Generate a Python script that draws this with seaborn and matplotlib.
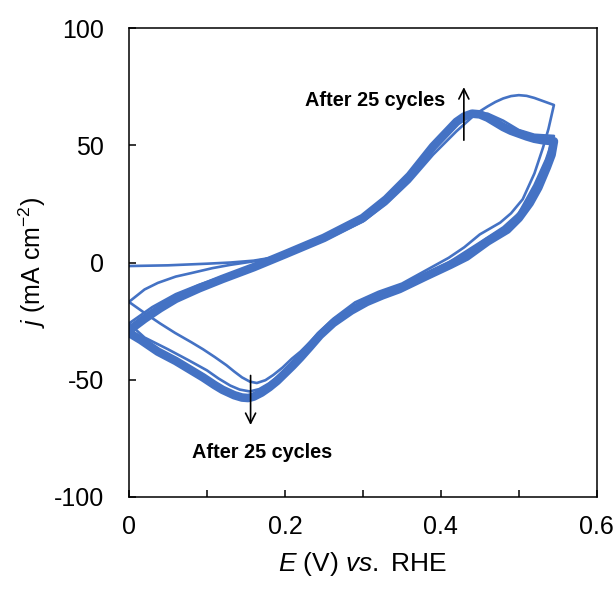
import matplotlib
matplotlib.use("Agg")
import matplotlib.pyplot as plt
import pandas as pd
import seaborn as sns
from matplotlib.ticker import MultipleLocator

# ---- cyclic voltammetry data: potential E (V vs. RHE), current density j (mA cm^-2) ----
# cycle 1, anodic sweep (starts at 0 V)
c1_an_E = [0.0, 0.05, 0.10, 0.13, 0.16, 0.20, 0.25, 0.30, 0.33, 0.36, 0.39, 0.42,
           0.44, 0.45, 0.46, 0.47, 0.48, 0.49, 0.50, 0.51, 0.52, 0.53, 0.545]
c1_an_j = [-1.5, -1.2, -0.5, 0.0, 0.8, 3.0, 9.5, 17.5, 25.0, 34.5, 46.0, 56.0,
           62.0, 64.5, 66.6, 68.5, 70.0, 71.0, 71.4, 71.1, 70.2, 69.0, 67.2]
# cycle 1, cathodic sweep
c1_ca_E = [0.545, 0.538, 0.531, 0.52, 0.505, 0.49, 0.476, 0.45, 0.43, 0.41, 0.38, 0.35,
           0.32, 0.29, 0.262, 0.245, 0.232, 0.22, 0.209, 0.197, 0.185, 0.175, 0.164,
           0.155, 0.145, 0.135, 0.125, 0.11, 0.095, 0.08, 0.059, 0.04, 0.02, 0.0]
c1_ca_j = [67.2, 57.0, 49.0, 38.0, 27.0, 21.0, 17.0, 12.0, 6.5, 2.0, -3.5, -9.0,
           -12.5, -17.0, -24.0, -29.5, -34.0, -38.0, -41.0, -44.8, -48.0, -50.2, -51.4,
           -50.8, -49.0, -46.5, -43.8, -40.3, -37.0, -34.0, -30.0, -26.0, -21.5, -16.8]

# cycle 2, anodic sweep
c2_an_E = [0.0, 0.02, 0.037, 0.06, 0.08, 0.107, 0.13, 0.16, 0.20, 0.25, 0.30, 0.33,
           0.36, 0.39, 0.42, 0.44, 0.46, 0.48, 0.50, 0.52, 0.545]
c2_an_j = [-16.8, -11.5, -8.7, -6.0, -4.5, -2.4, -1.0, 0.5, 3.0, 10.0, 19.5, 27.0,
           37.0, 49.0, 59.0, 63.5, 63.5, 60.5, 56.5, 54.5, 54.0]
# cycle 2, cathodic sweep
c2_ca_E = [0.545, 0.535, 0.52, 0.50, 0.48, 0.45, 0.41, 0.38, 0.347, 0.305, 0.262,
           0.245, 0.232, 0.22, 0.209, 0.195, 0.18, 0.167, 0.155, 0.142, 0.13, 0.115,
           0.10, 0.076, 0.05, 0.02, 0.0]
c2_ca_j = [54.0, 44.0, 33.0, 21.0, 15.0, 8.5, 0.0, -5.0, -10.5, -16.0, -25.0,
           -30.5, -35.5, -39.5, -43.0, -47.5, -51.5, -54.0, -55.0, -54.2, -52.5, -49.5,
           -46.0, -41.6, -37.0, -32.0, -26.0]

# cycle 3 start, joining the stable loop
c3_an_E = [0.0, 0.03, 0.06, 0.09, 0.12, 0.16, 0.20]
c3_an_j = [-26.0, -19.0, -13.5, -9.5, -6.0, -1.5, 3.5]

# stable loop (cycles 3-25), anodic sweep
st_an_E = [0.0, 0.02, 0.04, 0.06, 0.09, 0.12, 0.16, 0.20, 0.25, 0.30, 0.33, 0.36,
           0.39, 0.42, 0.43, 0.44, 0.45, 0.46, 0.47, 0.48, 0.49, 0.50, 0.51, 0.52,
           0.53, 0.545]
st_an_j = [-29.0, -24.0, -19.5, -15.5, -11.0, -7.0, -2.0, 3.5, 10.5, 19.0, 27.0, 37.0,
           49.5, 60.0, 62.3, 63.5, 63.2, 61.8, 59.8, 57.8, 56.2, 55.0, 53.8, 52.8,
           52.2, 51.7]
# stable loop, cathodic sweep
st_ca_E = [0.545, 0.542, 0.536, 0.525, 0.514, 0.50, 0.485, 0.46, 0.433, 0.412, 0.38,
           0.347, 0.325, 0.305, 0.285, 0.262, 0.245, 0.232, 0.22, 0.21, 0.19, 0.18,
           0.17, 0.16, 0.153, 0.145, 0.135, 0.12, 0.11, 0.095, 0.081, 0.06, 0.037,
           0.015, 0.0]
st_ca_j = [51.7, 46.0, 40.7, 32.0, 25.4, 19.0, 14.0, 9.0, 2.5, -1.0, -6.0,
           -11.3, -14.0, -16.8, -20.5, -25.8, -31.0, -36.0, -40.5, -44.0, -50.5, -53.2,
           -55.5, -57.2, -57.8, -57.6, -56.6, -54.3, -52.3, -49.0, -46.2, -42.0, -38.0,
           -33.0, -30.0]

x_ticks = [0.0, 0.2, 0.4, 0.6]
x_tick_labels = ["0", "0.2", "0.4", "0.6"]
y_ticks = [-100, -50, 0, 50, 100]
y_tick_labels = ["-100", "-50", "0", "50", "100"]

LINE = "#4472C4"

sns.set_theme(style="ticks")
plt.rcParams["font.family"] = ["Liberation Sans", "DejaVu Sans"]
plt.rcParams["mathtext.fontset"] = "custom"
plt.rcParams["mathtext.rm"] = "Liberation Sans"
plt.rcParams["mathtext.it"] = "Liberation Sans:italic"
plt.rcParams["axes.unicode_minus"] = False

fig = plt.figure(figsize=(6.14, 5.98), dpi=100)
ax = fig.add_axes([0.210, 0.169, 0.762, 0.784])


def curve(E, j):
    return pd.DataFrame({"E": E, "j": j})


# stable loop drawn as one thick band
stable = curve(st_an_E + st_ca_E[1:], st_an_j + st_ca_j[1:])
sns.lineplot(data=stable, x="E", y="j", sort=False, estimator=None, ax=ax,
             color=LINE, lw=6.2, solid_joinstyle="round", solid_capstyle="round")

# early cycles as thin lines
for E, j in [(c1_an_E + c1_ca_E[1:], c1_an_j + c1_ca_j[1:]),
             (c2_an_E + c2_ca_E[1:], c2_an_j + c2_ca_j[1:]),
             (c3_an_E, c3_an_j)]:
    sns.lineplot(data=curve(E, j), x="E", y="j", sort=False, estimator=None, ax=ax,
                 color=LINE, lw=1.9, solid_joinstyle="round")

ax.set_xlim(0, 0.6)
ax.set_ylim(-100, 100)
ax.set_xticks(x_ticks)
ax.set_xticklabels(x_tick_labels)
ax.xaxis.set_minor_locator(MultipleLocator(0.1))
ax.set_yticks(y_ticks)
ax.set_yticklabels(y_tick_labels)

for s in ax.spines.values():
    s.set_visible(True)
    s.set_color("black")
    s.set_linewidth(1.1)

ax.tick_params(which="both", direction="in", length=5, width=1.1, color="black",
               top=False, right=False)
ax.tick_params(axis="x", which="major", labelsize=18, pad=13, labelcolor="black")
ax.tick_params(axis="y", which="major", labelsize=18, pad=18, labelcolor="black")

ax.set_xlabel(r"$E$ (V) $vs.$ RHE", fontsize=19, labelpad=8, color="black")
ax.set_ylabel(r"$j$ (mA cm$^{-2}$)", fontsize=18, labelpad=4, color="black")

# annotations for the evolution over cycling
ax.annotate("", xy=(0.4295, 76.0), xytext=(0.4295, 51.0),
            arrowprops=dict(arrowstyle="->", color="black", lw=1.2, mutation_scale=18))
ax.text(0.405, 69.0, "After 25 cycles", ha="right", va="center",
        fontsize=14.3, fontweight="bold", color="black")

ax.annotate("", xy=(0.156, -70.5), xytext=(0.156, -47.0),
            arrowprops=dict(arrowstyle="->", color="black", lw=1.2, mutation_scale=18))
ax.text(0.171, -81.0, "After 25 cycles", ha="center", va="center",
        fontsize=14.3, fontweight="bold", color="black")

fig.savefig("out.png", dpi=100, facecolor="white")
